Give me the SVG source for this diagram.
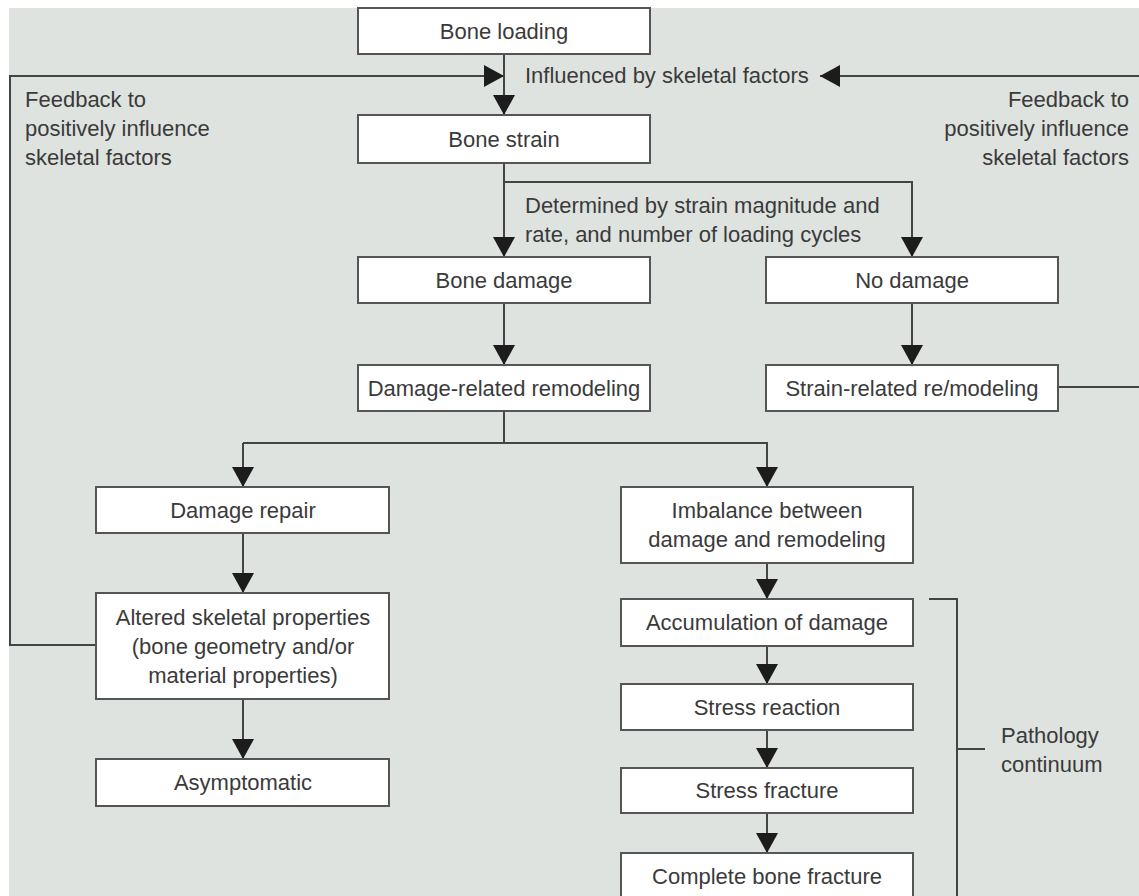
<svg xmlns="http://www.w3.org/2000/svg" width="1139" height="896" viewBox="0 0 1139 896">
<style>
.box{fill:#ffffff;stroke:#555555;stroke-width:2}
.t{font-family:"Liberation Sans",Arial,sans-serif;font-size:22px;fill:#3a3a3a}
.c{text-anchor:middle}
.e{text-anchor:end}
.ln{fill:none;stroke:#444444;stroke-width:2}
</style>
<defs>
<marker id="ah" markerUnits="userSpaceOnUse" markerWidth="20" markerHeight="22" refX="20" refY="11" orient="auto">
<path d="M0,0 L20,11 L0,22 z" fill="#1c1c1c"/>
</marker>
</defs>
<rect x="0" y="0" width="1139" height="896" fill="#ffffff"/>
<rect x="9" y="8" width="1130" height="888" fill="#dee3df"/>

<g id="connectors">
<path class="ln" d="M96,645 H10 V76 H504" marker-end="url(#ah)"/>
<path class="ln" d="M1058,387 H1150 V76 H820" marker-end="url(#ah)"/>
<path class="ln" d="M504,54 V115" marker-end="url(#ah)"/>
<path class="ln" d="M504,163 V257" marker-end="url(#ah)"/>
<path class="ln" d="M504,182 H912 V257" marker-end="url(#ah)"/>
<path class="ln" d="M504,303 V365" marker-end="url(#ah)"/>
<path class="ln" d="M912,303 V365" marker-end="url(#ah)"/>
<path class="ln" d="M504,411 V443"/>
<path class="ln" d="M243,443 V487" marker-end="url(#ah)"/>
<path class="ln" d="M243,443 H767 V487" marker-end="url(#ah)"/>
<path class="ln" d="M243,533 V593" marker-end="url(#ah)"/>
<path class="ln" d="M243,699 V759" marker-end="url(#ah)"/>
<path class="ln" d="M767,563 V599" marker-end="url(#ah)"/>
<path class="ln" d="M767,646 V684" marker-end="url(#ah)"/>
<path class="ln" d="M767,730 V768" marker-end="url(#ah)"/>
<path class="ln" d="M767,813 V853" marker-end="url(#ah)"/>
<path class="ln" d="M929,599 H957 V900"/>
<path class="ln" d="M957,749 H985"/>
</g>

<g id="labels">
<text class="t" x="525" y="83">Influenced by skeletal factors</text>
<text class="t" x="25" y="107">Feedback to</text>
<text class="t" x="25" y="136">positively influence</text>
<text class="t" x="25" y="165">skeletal factors</text>
<text class="t e" x="1129" y="107">Feedback to</text>
<text class="t e" x="1129" y="136">positively influence</text>
<text class="t e" x="1129" y="165">skeletal factors</text>
<text class="t" x="525" y="213">Determined by strain magnitude and</text>
<text class="t" x="525" y="242">rate, and number of loading cycles</text>
<text class="t" x="1001" y="743">Pathology</text>
<text class="t" x="1001" y="772">continuum</text>
</g>

<g id="bone-loading"><rect class="box" x="358" y="8" width="292" height="46"/><text class="t c" x="504" y="39">Bone loading</text></g>
<g id="bone-strain"><rect class="box" x="358" y="115" width="292" height="48"/><text class="t c" x="504" y="147">Bone strain</text></g>
<g id="bone-damage"><rect class="box" x="358" y="257" width="292" height="46"/><text class="t c" x="504" y="288">Bone damage</text></g>
<g id="no-damage"><rect class="box" x="766" y="257" width="292" height="46"/><text class="t c" x="912" y="288">No damage</text></g>
<g id="damage-remodeling"><rect class="box" x="358" y="365" width="292" height="46"/><text class="t c" x="504" y="396">Damage-related remodeling</text></g>
<g id="strain-remodeling"><rect class="box" x="766" y="365" width="292" height="46"/><text class="t c" x="912" y="396">Strain-related re/modeling</text></g>
<g id="damage-repair"><rect class="box" x="96" y="487" width="293" height="46"/><text class="t c" x="243" y="518">Damage repair</text></g>
<g id="imbalance"><rect class="box" x="621" y="487" width="292" height="76"/><text class="t c" x="767" y="518">Imbalance between</text><text class="t c" x="767" y="547">damage and remodeling</text></g>
<g id="altered"><rect class="box" x="96" y="593" width="293" height="106"/><text class="t c" x="243" y="625">Altered skeletal properties</text><text class="t c" x="243" y="654">(bone geometry and/or</text><text class="t c" x="243" y="683">material properties)</text></g>
<g id="asymptomatic"><rect class="box" x="96" y="759" width="293" height="47"/><text class="t c" x="243" y="790">Asymptomatic</text></g>
<g id="accumulation"><rect class="box" x="621" y="599" width="292" height="47"/><text class="t c" x="767" y="630">Accumulation of damage</text></g>
<g id="stress-reaction"><rect class="box" x="621" y="684" width="292" height="46"/><text class="t c" x="767" y="715">Stress reaction</text></g>
<g id="stress-fracture"><rect class="box" x="621" y="768" width="292" height="45"/><text class="t c" x="767" y="798">Stress fracture</text></g>
<g id="complete-fracture"><rect class="box" x="621" y="853" width="292" height="50"/><text class="t c" x="767" y="884">Complete bone fracture</text></g>
</svg>
